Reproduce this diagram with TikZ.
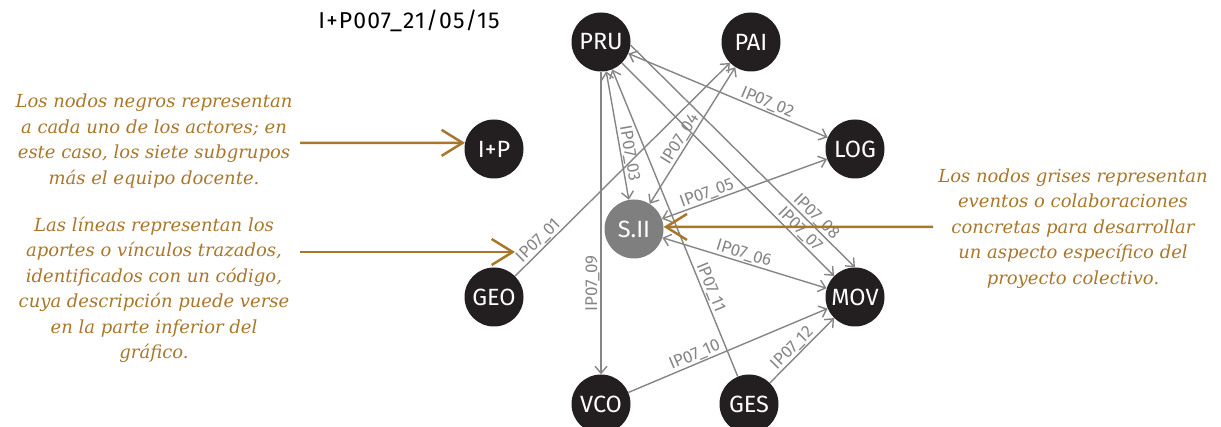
\documentclass[tikz,border=0pt]{standalone}
\usepackage{fontspec}
\setmainfont{Fira Sans}
\newfontfamily\notefont{DejaVu Serif}
\newfontfamily\titlefont[LetterSpace=5]{Fira Sans}
\usetikzlibrary{arrows.meta}
\definecolor{actorfill}{HTML}{231F20}
\definecolor{eventfill}{HTML}{7F7F7F}
\definecolor{linkgray}{HTML}{858585}
\definecolor{notecolor}{HTML}{A8772A}
\begin{document}
\begin{tikzpicture}[x=1pt,y=-1pt,
  actor/.style={circle, fill=actorfill, minimum size=59pt, inner sep=0pt,
    text=white, font=\fontsize{23.5}{23.5}\selectfont},
  eventnode/.style={actor, fill=eventfill},
  link/.style={draw=linkgray, line width=1.4pt,
    -{Straight Barb[length=7pt,width=12pt]}},
  twoway/.style={link,
    {Straight Barb[length=7pt,width=12pt]}-{Straight Barb[length=7pt,width=12pt]}},
  codebase/.style={text=linkgray, font=\fontsize{17}{17}\selectfont, inner sep=0.8pt},
  code/.style={codebase, sloped, above},
  callout/.style={draw=notecolor, line width=2.5pt,
    -{Straight Barb[length=21pt,width=26pt]}},
  notetext/.style={text=notecolor, align=center,
    font=\notefont\itshape\fontsize{18}{25.5}\selectfont}
]
\useasboundingbox (0,0) rectangle (1221,427);

% title
\node[font=\titlefont\fontsize{23}{23}\selectfont] (title) at (409,21) {I+P007\_21/05/15};

% actors and events
\node[actor] (PRU) at (601,42) {PRU};
\node[actor] (PAI) at (751,42) {PAI};
\node[actor] (LOG) at (855,149) {LOG};
\node[actor] (IP) at (494,149) {I+P};
\node[eventnode] (SII) at (634,229) {S.II};
\node[actor] (GEO) at (494,297) {GEO};
\node[actor] (MOV) at (855,297) {MOV};
\node[actor] (VCO) at (601,404) {VCO};
\node[actor] (GES) at (749,404) {GES};

% contributions
\draw[link] (GEO) -- node[code,pos=0.137] (l01) {IP07\_01} (PAI);
\draw[twoway] (PRU) -- node[code,pos=0.68] {IP07\_02} (LOG);
\draw[twoway] (PRU) -- node[code,pos=0.65] {IP07\_03} (SII);
\draw[twoway] (SII) -- node[code,pos=0.44] {IP07\_04} (PAI);
\draw[twoway] (SII) -- node[code,pos=0.29] {IP07\_05} (LOG);
\draw[twoway] (SII) -- node[code,pos=0.48] {IP07\_06} (MOV);
\draw[link] (PRU) -- node[code,pos=0.81] {IP07\_07} (MOV);
\draw[link] (PRU.-6) -- node[code,pos=0.80] {IP07\_08} (MOV.north);
\draw[link] (PRU) -- node[codebase,pos=0.70,rotate=90,anchor=south] {IP07\_09} (VCO);
\draw[link] (VCO) -- node[code,pos=0.35] {IP07\_10} (MOV);
\draw[link] (GES) -- node[code,pos=0.28] {IP07\_11} (PRU);
\draw[link] (GES) -- node[code,pos=0.44] {IP07\_12} (MOV);

% explanatory notes
\node[notetext] (n1) at (154,141) {Los nodos negros representan\\a cada uno de los actores; en\\este caso, los siete subgrupos\\más el equipo docente.};
\node[notetext] (n2) at (154,290) {Las líneas representan los\\aportes o vínculos trazados,\\identificados con un código,\\cuya descripción puede verse\\en la parte inferior del\\gráfico.};
\node[notetext] (n3) at (1073,228.5) {Los nodos grises representan\\eventos o colaboraciones\\concretas para desarrollar\\un aspecto específico del\\proyecto colectivo.};

% callout arrows
\coordinate (c1) at (300,143);
\coordinate (c2) at (300,252);
\coordinate (c3) at (933,227);
\draw[callout] (c1) -- (IP.168);
\draw[callout] (c2) -- ([xshift=-3pt]c2 -| l01.west);
\draw[callout] (c3) -- (SII.4);
\end{tikzpicture}
\end{document}
